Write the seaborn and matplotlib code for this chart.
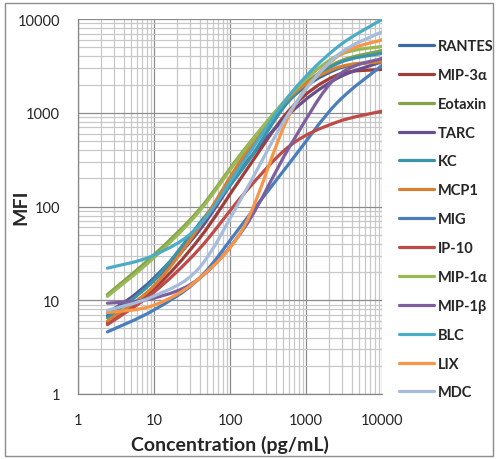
import matplotlib
matplotlib.use("Agg")
import matplotlib.pyplot as plt
from matplotlib.path import Path
from matplotlib.patches import PathPatch, Rectangle
from matplotlib.lines import Line2D
from matplotlib.ticker import LogLocator, NullFormatter
import seaborn as sns
import numpy as np

# standard curve concentrations (4-fold dilutions)
conc = [2.44, 9.77, 39.06, 156.25, 625, 2500, 10000]

analytes = ["RANTES", "MIP-3\u03b1", "Eotaxin", "TARC", "KC", "MCP1", "MIG",
            "IP-10", "MIP-1\u03b1", "MIP-1\u03b2", "BLC", "LIX", "MDC"]

rantes = [6.8, 17, 60, 330, 1400, 2900, 3600]
mip3a = [5.7, 13, 45, 230, 1100, 2500, 2900]
eotaxin = [11.5, 30, 92, 410, 1500, 3400, 4600]
tarc = [7.3, 16, 55, 280, 1000, 2300, 3500]
kc = [6.5, 16, 65, 270, 1400, 3300, 4300]
mcp1 = [6.0, 14, 60, 360, 1500, 3000, 3500]
mig = [4.6, 7.8, 17, 70, 300, 1250, 3200]
ip10 = [5.5, 12, 35, 140, 450, 790, 1040]
mip1a = [11, 28, 88, 400, 1560, 4000, 5100]
mip1b = [9.3, 10.5, 17, 60, 450, 2400, 3800]
blc = [22, 30, 62, 315, 1590, 4900, 9900]
lix = [7.4, 8.8, 17, 63, 1000, 3900, 6000]
mdc = [7.8, 11, 22, 142, 1050, 4000, 7300]

series = [rantes, mip3a, eotaxin, tarc, kc, mcp1, mig,
          ip10, mip1a, mip1b, blc, lix, mdc]

PALETTE = ["#3C6AA5", "#A03D3A", "#84A349", "#684F8C", "#3994AA", "#D77F33",
           "#4A7EBB", "#BE4B48", "#98B954", "#7D5FA0", "#4AACC6", "#F79646",
           "#A5BCDB"]

sns.set_style("white")
plt.rcParams["font.family"] = ["Lato", "DejaVu Sans"]


def smooth_path(xs, ys):
    """Excel-style smoothed line: Catmull-Rom bezier through the points in log space."""
    p = np.column_stack([np.log10(xs), np.log10(ys)])
    n = len(p)
    verts = [p[0]]
    codes = [Path.MOVETO]
    for i in range(n - 1):
        p0 = p[max(i - 1, 0)]
        p1 = p[i]
        p2 = p[i + 1]
        p3 = p[min(i + 2, n - 1)]
        c1 = p1 + (p2 - p0) / 6
        c2 = p2 - (p3 - p1) / 6
        verts += [c1, c2, p2]
        codes += [Path.CURVE4] * 3
    return Path(10 ** np.array(verts), codes)


fig = plt.figure(figsize=(4.98, 4.60), dpi=100)
ax = fig.add_axes([78 / 498, 1 - 395 / 460, 304 / 498, 375 / 460])
ax.set_xscale("log")
ax.set_yscale("log")
ax.set_xlim(1, 10000)
ax.set_ylim(1, 10000)

ax.xaxis.set_minor_locator(LogLocator(base=10, subs=np.arange(2, 10)))
ax.yaxis.set_minor_locator(LogLocator(base=10, subs=np.arange(2, 10)))
ax.xaxis.set_minor_formatter(NullFormatter())
ax.yaxis.set_minor_formatter(NullFormatter())
ax.set_xticks([1, 10, 100, 1000, 10000])
ax.set_yticks([1, 10, 100, 1000, 10000])
ax.set_xticklabels(["1", "10", "100", "1000", "10000"])
ax.set_yticklabels(["1", "10", "100", "1000", "10000"])

ax.grid(which="major", color="#8C8C8C", linewidth=0.9)
ax.grid(which="minor", color="#C8C8C8", linewidth=0.9)
ax.set_axisbelow(True)
for s in ["top", "right"]:
    ax.spines[s].set_visible(False)
for s in ["left", "bottom"]:
    ax.spines[s].set_color("#868686")
    ax.spines[s].set_linewidth(0.9)
ax.tick_params(which="major", length=5, width=0.9, color="#868686",
               labelsize=10.5, direction="out")
ax.tick_params(axis="y", pad=8)
ax.tick_params(axis="x", pad=9)
ax.tick_params(which="minor", length=0)

handles = []
for name, vals, color in zip(analytes, series, PALETTE):
    ax.add_patch(PathPatch(smooth_path(conc, vals), facecolor="none",
                           edgecolor=color, linewidth=2.3, capstyle="round"))
    handles.append(Line2D([], [], color=color, linewidth=2.3, label=name))

ax.set_xlabel("Concentration (pg/mL)", fontsize=14, fontweight="bold")
ax.xaxis.set_label_coords(0.5, -(436 - 395) / 375)
ax.set_ylabel("MFI", fontsize=14, fontweight="bold")
ax.yaxis.set_label_coords(-(78 - 29) / 304, 0.5)

fig.legend(handles=handles, loc="upper left", bbox_to_anchor=(399 / 498, 1 - 40 / 460),
           frameon=False, borderpad=0, borderaxespad=0, handlelength=2.4,
           handletextpad=0.25, labelspacing=1.02,
           prop={"weight": "bold", "size": 10.5})

fig.add_artist(Rectangle((5 / 498, 3 / 460), 488 / 498, 453 / 460, transform=fig.transFigure,
                         facecolor="none", edgecolor="#8C8C8C", linewidth=1))

fig.savefig("out.png", dpi=100)
plt.close(fig)
